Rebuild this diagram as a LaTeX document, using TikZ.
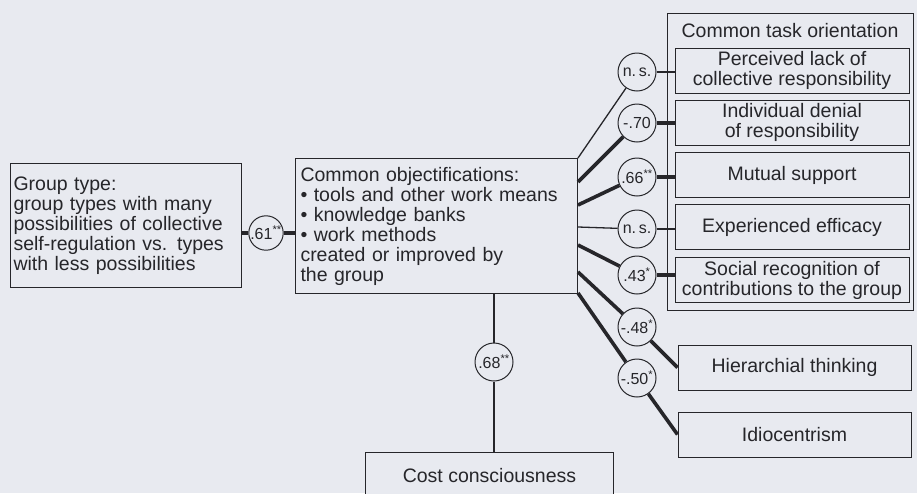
\documentclass[tikz,border=0pt]{standalone}
\usepackage{fontspec}
\setmainfont{Liberation Sans}
\usetikzlibrary{calc}
\definecolor{paper}{RGB}{232,234,240}
\definecolor{ink}{RGB}{38,38,42}
\newcommand{\sig}[1]{\textsuperscript{#1}}
\tikzset{
    box/.style={draw=ink, line width=1pt, fill=paper, inner sep=0pt,
        text=ink, font=\fontsize{19.5}{20}\selectfont},
    corr/.style={draw=ink, circle, line width=1pt, fill=paper, inner sep=0pt,
        minimum size=38pt, text=ink, font=\fontsize{16}{16}\selectfont},
    weakline/.style={draw=ink, line width=1.3pt},
    strongline/.style={draw=ink, line width=3.6pt},
}

\begin{document}
\begin{tikzpicture}[x=1pt, y=-1pt]

                \fill [paper] (0, 0) rectangle (917, 493);
                \clip (0, 0) rectangle (917, 493);

                \node [box, anchor=north west, minimum width=231pt, minimum height=124pt,
                    text width=225pt, align=left] (group) at (10, 163)
                    {Group type:\\ group types with many\\ possibilities of collective\\
                     self-regulation vs. types\\ with less possibilities};
                \node [box, anchor=north west, minimum width=282pt, minimum height=135pt,
                    text width=272pt, align=left] (obj) at (295, 158)
                    {Common objectifications:\\ \textbullet\ tools and other work means\\
                     \textbullet\ knowledge banks\\ \textbullet\ work methods\\
                     created or improved by\\ the group};
                \node [box, anchor=north west, minimum width=248pt, minimum height=46pt]
                    (cost) at (365, 452) {Cost consciousness};

                \node [box, anchor=north west, minimum width=246pt, minimum height=297pt]
                    (task) at (667, 13) {};
                \node [anchor=base, text=ink, font=\fontsize{19.5}{20}\selectfont]
                    (tasktitle) at (790, 37) {Common task orientation};
                \foreach \n/\y/\t in {b1/70.5/{Perceived lack of\\ collective responsibility},
                                      b2/122.5/{Individual denial\\ of responsibility},
                                      b3/175/{Mutual support},
                                      b4/227/{Experienced efficacy},
                                      b5/280/{Social recognition of\\ contributions to the group}}
                    \node [box, minimum width=234pt, minimum height=45pt, align=center]
                        (\n) at (792, \y) {\t};
                \node [box, minimum width=233pt, minimum height=45pt] (hier) at (794.5, 367.5)
                    {Hierarchial thinking};
                \node [box, minimum width=233pt, minimum height=45pt] (idio) at (794.5, 434.5)
                    {Idiocentrism};

                \node [corr, minimum size=34pt] (c61) at (266, 233) {.61\sig{**}};
                \node [corr] (c68) at (494, 362) {.68\sig{**}};
                \foreach \n/\y/\t in {c1/72/n.\,s., c2/123/-.70, c3/177/.66\sig{**},
                                      c4/229/n.\,s., c5/275/.43\sig{*}, c6/327/-.48\sig{*},
                                      c7/378/-.50\sig{*}}
                    \node [corr] (\n) at (637, \y) {\t};

                \foreach \c/\dy/\w in {c1/0/weakline, c2/24/strongline, c3/47/strongline,
                                       c4/69/weakline, c5/87/strongline, c6/114/strongline,
                                       c7/135/strongline}
                    \draw [\w] ($(obj.north east)+(0, \dy)$) -- (\c);
                \foreach \c/\b/\w in {c1/b1/weakline, c2/b2/strongline, c3/b3/strongline,
                                      c4/b4/weakline, c5/b5/strongline}
                    \draw [\w] (\c) -- (\c -| \b.west);
                \draw [strongline] (c6) -- (hier.west);
                \draw [strongline] (c7) -- (idio.west);
                \draw [strongline] (group.east |- c61) -- (c61) -- (obj.west |- c61);
                \draw [weakline] (obj.south -| c68) -- (c68) -- (cost.north -| c68);
            \end{tikzpicture}
\end{document}
